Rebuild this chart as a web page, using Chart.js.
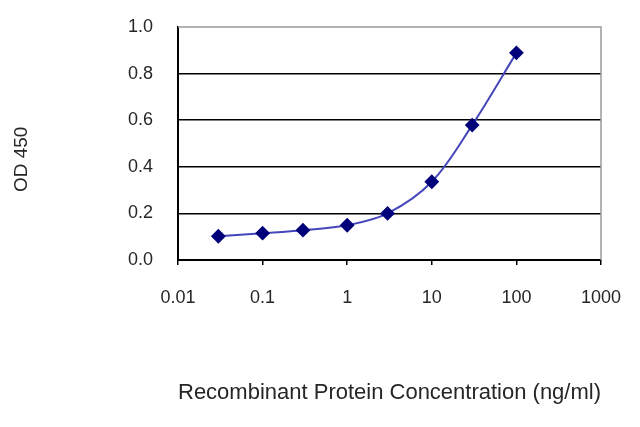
<!DOCTYPE html>
<html>
<head>
<meta charset="utf-8">
<script src="https://cdn.jsdelivr.net/npm/chart.js@4/dist/chart.umd.min.js"></script>
<style>
  html, body { margin: 0; padding: 0; background: #fff; }
  #wrap { width: 640px; height: 427px; }
</style>
</head>
<body>
<div id="wrap"><canvas id="chart"></canvas></div>
<script>
// concentrations (ng/ml) and measured OD 450
const concentrations = [0.03, 0.1, 0.3, 1, 3, 10, 30, 100];
const odValues = [0.102, 0.115, 0.128, 0.149, 0.2, 0.336, 0.579, 0.889];
const xTicks = [0.01, 0.1, 1, 10, 100, 1000];
const xTickLabels = ['0.01', '0.1', '1', '10', '100', '1000'];
const yTicks = [0, 0.2, 0.4, 0.6, 0.8, 1.0];
const yTickLabels = ['0.0', '0.2', '0.4', '0.6', '0.8', '1.0'];

const textColor = '#262626';
const family = '"Liberation Sans", Arial, sans-serif';

// gray frame on top / right like the original plot area
const frame = {
  id: 'frame',
  beforeDatasetsDraw(chart) {
    const { ctx, chartArea: a } = chart;
    ctx.save();
    ctx.strokeStyle = '#9a9a9a';
    ctx.lineWidth = 1.5;
    ctx.beginPath();
    ctx.moveTo(a.left, a.top);
    ctx.lineTo(a.right, a.top);
    ctx.lineTo(a.right, a.bottom);
    ctx.stroke();
    ctx.restore();
  }
};

new Chart(document.getElementById('chart'), {
  type: 'scatter',
  data: {
    datasets: [{
      data: concentrations.map((c, i) => ({ x: c, y: odValues[i] })),
      showLine: true,
      tension: 0.35,
      borderColor: '#4646bb',
      borderWidth: 2,
      pointStyle: 'rectRot',
      pointRadius: 6,
      pointBackgroundColor: '#00007a',
      pointBorderColor: '#00007a'
    }]
  },
  options: {
    responsive: true,
    maintainAspectRatio: false,
    animation: false,
    layout: { padding: { top: 27, right: 39, left: 0, bottom: 0 } },
    plugins: { legend: { display: false }, tooltip: { enabled: false } },
    scales: {
      x: {
        type: 'logarithmic',
        min: 0.01,
        max: 1000,
        afterBuildTicks: (scale) => { scale.ticks = xTicks.map(v => ({ value: v })); },
        afterFit: (scale) => {
          scale.height = 167;
          scale.paddingLeft = 0;
          scale.paddingRight = 0;
        },
        ticks: {
          color: textColor,
          font: { family: family, size: 18 },
          padding: 22,
          maxRotation: 0,
          autoSkip: false,
          callback: (v) => xTickLabels[xTicks.indexOf(v)] ?? ''
        },
        grid: { drawOnChartArea: false, drawTicks: true, tickLength: 5, color: '#000', lineWidth: 1.5 },
        border: { color: '#000', width: 2 },
        title: {
          display: true,
          text: 'Recombinant Protein Concentration (ng/ml)',
          color: textColor,
          font: { family: family, size: 22 },
          padding: { top: 0, bottom: 21 }
        }
      },
      y: {
        min: 0,
        max: 1,
        afterBuildTicks: (scale) => { scale.ticks = yTicks.map(v => ({ value: v })); },
        afterFit: (scale) => {
          scale.width = 178;
          scale.paddingTop = 0;
          scale.paddingBottom = 0;
        },
        ticks: {
          color: textColor,
          font: { family: family, size: 18 },
          padding: 25,
          callback: (v) => yTickLabels[yTicks.indexOf(v)] ?? ''
        },
        grid: {
          drawTicks: false,
          color: (c) => (c.tick && c.tick.value === 1 ? 'rgba(0,0,0,0)' : '#000'),
          lineWidth: 1.5
        },
        border: { color: '#000', width: 2 },
        title: {
          display: true,
          // trailing spaces push the rotated title a little lower, as in the original
          text: 'OD 450      ',
          color: textColor,
          font: { family: family, size: 19 },
          padding: { top: 10, bottom: 0 }
        }
      }
    }
  },
  plugins: [frame]
});
</script>
</body>
</html>
